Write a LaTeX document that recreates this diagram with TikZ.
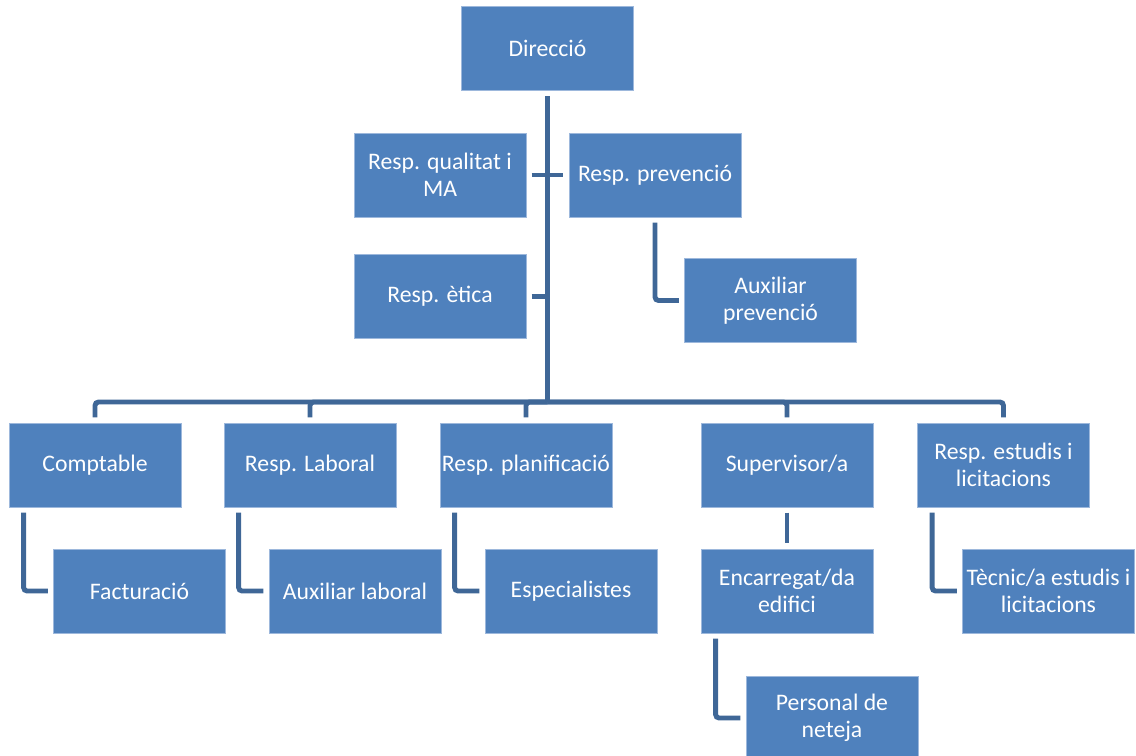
\documentclass[tikz,border=0pt]{standalone}
\usepackage{fontspec}
\setmainfont{Carlito}
\definecolor{caixa}{HTML}{4F81BD}
\definecolor{vora}{HTML}{9DB8DC}
\definecolor{fosc}{HTML}{3F6797}
\tikzset{
  carrec/.style={shape=rectangle,fill=caixa,draw=vora,line width=0.4pt,minimum width=3.44cm,minimum height=1.68cm,inner sep=1pt,text=white,align=center,font=\fontsize{13.5}{15.3}\selectfont},
  enllac/.style={draw=fosc,line width=2.8pt,rounded corners=2pt}
}
\begin{document}
\begin{tikzpicture}[x=0.02cm,y=-0.02cm]
    \useasboundingbox (0,0) rectangle (1136,755);
    \node[carrec] (dir) at (547.5,48.5) {Direcció};
    \node[carrec] (qual) at (440,175) {Resp. qualitat i\\MA};
    \node[carrec] (prev) at (655,175) {Resp. prevenció};
    \node[carrec] (etica) at (440,296.5) {Resp. ètica};
    \node[carrec] (auxprev) at (770.5,300.5) {Auxiliar\\prevenció};

    \node[carrec] (compt) at (95,465) {Comptable};
    \node[carrec] (lab) at (310,465) {Resp. Laboral};
    \node[carrec] (plan) at (526,465) {Resp. planificació};
    \node[carrec] (sup) at (787,465) {Supervisor/a};
    \node[carrec] (est) at (1003.5,465) {Resp. estudis i\\licitacions};

    \node[carrec] (fact) at (139.5,591) {Facturació};
    \node[carrec] (auxlab) at (355,591) {Auxiliar laboral};
    \node[carrec] (esp) at (571,591) {Especialistes};
    \node[carrec] (enc) at (787,591) {Encarregat/da\\edifici};
    \node[carrec] (tec) at (1048.5,591) {Tècnic/a estudis i\\licitacions};
    \node[carrec] (pers) at (832,718) {Personal de\\neteja};

    \coordinate (bus) at (547.5,402);
    \draw[enllac,shorten <=3pt] (dir) -- (bus);
    \foreach \n in {compt,lab,plan,sup,est}
        \draw[enllac,shorten >=3pt] (bus) -| (\n);
    \draw[enllac,shorten <=3pt,shorten >=3pt] (qual) -- (prev);
    \draw[enllac,shorten <=3pt] (etica) -- (etica -| bus);
    \draw[enllac,shorten <=3pt,shorten >=3pt] (prev) |- (auxprev);
    \draw[enllac,shorten <=3pt,shorten >=3pt] (sup) -- (enc);
    \draw[enllac,shorten <=3pt,shorten >=3pt] ([xshift=8.5pt]compt.south west) |- (fact);
    \draw[enllac,shorten <=3pt,shorten >=3pt] ([xshift=8.5pt]lab.south west) |- (auxlab);
    \draw[enllac,shorten <=3pt,shorten >=3pt] ([xshift=8.5pt]plan.south west) |- (esp);
    \draw[enllac,shorten <=3pt,shorten >=3pt] ([xshift=8.5pt]est.south west) |- (tec);
    \draw[enllac,shorten <=3pt,shorten >=3pt] ([xshift=8.5pt]enc.south west) |- (pers);
\end{tikzpicture}
\end{document}
